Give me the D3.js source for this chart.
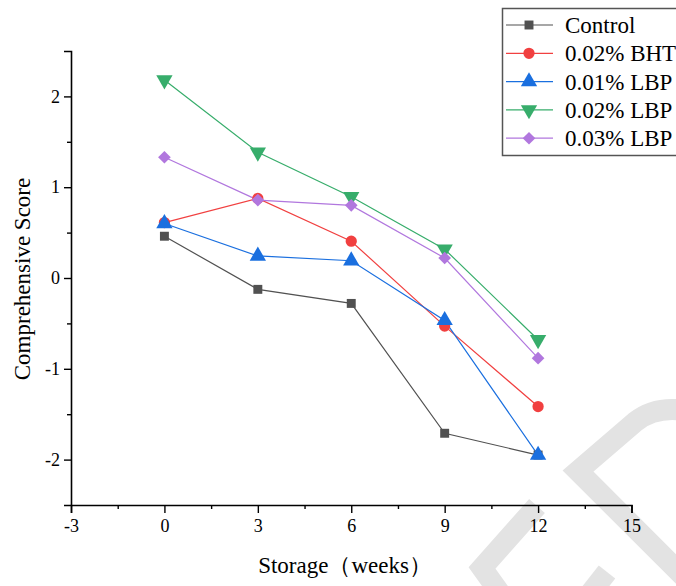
<!DOCTYPE html>
<html><head><meta charset="utf-8">
<script src="https://cdn.jsdelivr.net/npm/d3@7"></script>
<style>body{margin:0;background:#fff}svg{display:block}
svg text{font-family:"Liberation Serif","Tinos","Times New Roman",Times,"DejaVu Serif",serif !important}</style>
</head><body>
<svg id="c" width="676" height="586"></svg>
<script>
const weeks = [0, 3, 6, 9, 12];
const seriesNames = ["Control", "0.02% BHT", "0.01% LBP", "0.02% LBP", "0.03% LBP"];
const control = [0.46, -0.125, -0.28, -1.71, -1.95];
const bht = [0.61, 0.876, 0.405, -0.53, -1.416];
const lbp01 = [0.60, 0.243, 0.19, -0.467, -1.95];
const lbp02 = [2.18, 1.385, 0.894, 0.317, -0.68];
const lbp03 = [1.33, 0.858, 0.80, 0.22, -0.883];
const xTicks = [-3, 0, 3, 6, 9, 12, 15];
const yTicks = [-2, -1, 0, 1, 2];

const colors = ["#515151", "#F14040", "#1A6FDF", "#37AD6B", "#B177DE"];
const symbols = [d3.symbolSquare, d3.symbolCircle, d3.symbolTriangle, d3.symbolTriangle, d3.symbolSquare];
const symSize = [80, 100, 115, 115, 80];
const rot = [0, 0, 0, 180, 45];
const allSeries = [control, bht, lbp01, lbp02, lbp03];

const svg = d3.select("#c");

// watermark
const wm = svg.append("g").attr("fill", "none").attr("stroke", "#e3e3e3").attr("stroke-width", 21).attr("stroke-linejoin", "miter").attr("stroke-miterlimit", 10);
wm.append("path").attr("d", "M700,414 Q660,402 635,422 L578,471 L700,593");
wm.append("path").attr("d", "M537,506 L482,568 L505,600");
wm.append("path").attr("d", "M607,572 L585,600");

const x = d3.scaleLinear().domain([-3, 15]).range([71, 631.5]);
const y = d3.scaleLinear().domain([-2.5, 2.5]).range([505, 51]);
const fmt = d => String(d);

// axes
const xAxis = d3.axisBottom(x).tickValues(xTicks).tickSize(8).tickPadding(4).tickFormat(fmt);
const gx = svg.append("g").attr("transform", "translate(0,505)").call(xAxis);
const xMinor = d3.axisBottom(x).tickValues(d3.range(-1.5, 15, 3)).tickSize(4).tickFormat("");
svg.append("g").attr("transform", "translate(0,505)").call(xMinor).select(".domain").remove();
const yAxis = d3.axisLeft(y).tickValues(yTicks).tickSize(7).tickPadding(4).tickFormat(fmt);
const gy = svg.append("g").attr("transform", "translate(71,0)").call(yAxis);
const yMinor = d3.axisLeft(y).tickValues([-1.5, -0.5, 0.5, 1.5]).tickSize(4).tickFormat("");
svg.append("g").attr("transform", "translate(71,0)").call(yMinor).select(".domain").remove();
svg.selectAll(".domain").attr("stroke", "#000").attr("stroke-width", 1.6);
svg.selectAll(".tick line").attr("stroke", "#000").attr("stroke-width", 1.4);
svg.selectAll(".tick text").attr("font-size", 18).attr("fill", "#000");
gx.selectAll(".tick text").attr("dy", "0.85em");

svg.append("text").attr("x", 345).attr("y", 573).attr("text-anchor", "middle").attr("font-size", 23).text("Storage（weeks）");
svg.append("text").attr("transform", "translate(30,279) rotate(-90)").attr("text-anchor", "middle").attr("font-size", 23).text("Comprehensive Score");

// series
const line = d3.line().x((d, i) => x(weeks[i])).y(d => y(d));
allSeries.forEach((s, k) => {
  svg.append("path").datum(s).attr("d", line).attr("fill", "none").attr("stroke", colors[k]).attr("stroke-width", 1.2);
});
allSeries.forEach((s, k) => {
  svg.append("g").selectAll("path").data(s).join("path")
    .attr("d", d3.symbol(symbols[k], symSize[k]))
    .attr("transform", (d, i) => `translate(${x(weeks[i])},${y(d)}) rotate(${rot[k]})`)
    .attr("fill", colors[k]);
});

// legend
const lg = svg.append("g");
lg.append("rect").attr("x", 502.5).attr("y", 8.5).attr("width", 200).attr("height", 147).attr("fill", "#fff").attr("stroke", "#555").attr("stroke-width", 1.5);
seriesNames.forEach((n, k) => {
  const yy = 25 + k * 28.3;
  lg.append("line").attr("x1", 506).attr("x2", 553).attr("y1", yy).attr("y2", yy).attr("stroke", colors[k]).attr("stroke-width", 1.2);
  lg.append("path").attr("d", d3.symbol(symbols[k], symSize[k])).attr("transform", `translate(529,${yy}) rotate(${rot[k]})`).attr("fill", colors[k]);
  lg.append("text").attr("x", 565).attr("y", yy).attr("dy", "0.35em").attr("font-size", 23).text(n);
});
</script>
</body></html>
